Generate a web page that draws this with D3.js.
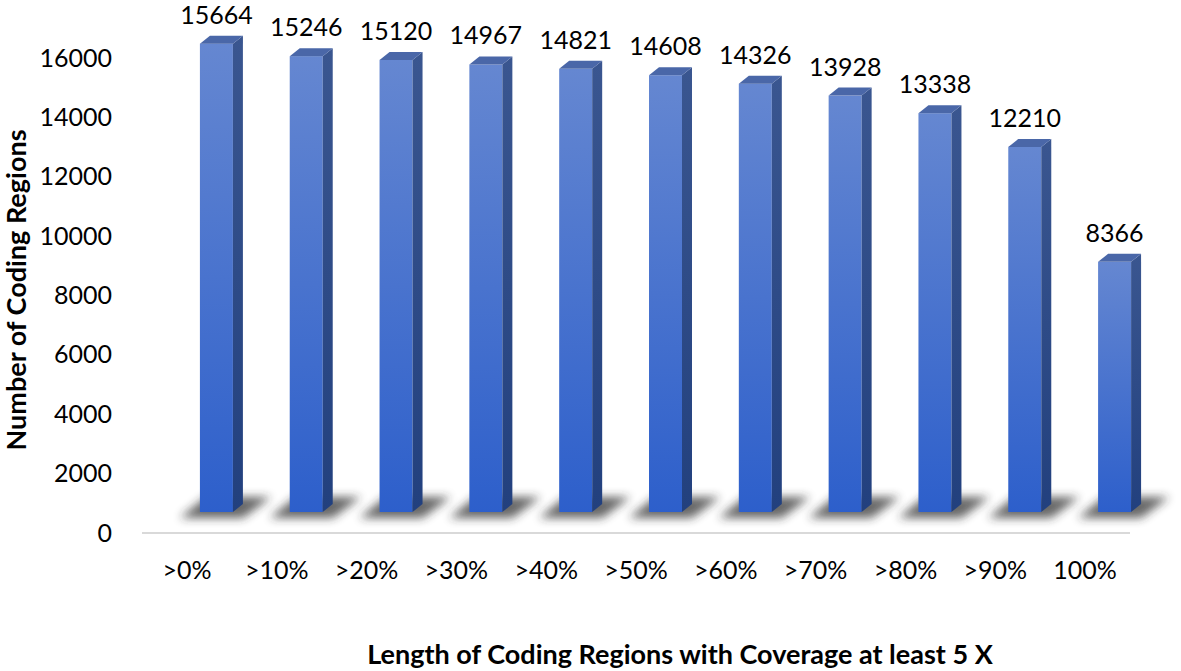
<!DOCTYPE html>
<html>
<head>
<meta charset="utf-8">
<script src="https://cdn.jsdelivr.net/npm/d3@7"></script>
<style>
  body { margin: 0; background: #fff; }
  text { font-family: Lato, "Open Sans", sans-serif; fill: #000; }
</style>
</head>
<body>
<div id="chart"></div>
<script>
// data
const categories = [">0%", ">10%", ">20%", ">30%", ">40%", ">50%", ">60%", ">70%", ">80%", ">90%", "100%"];
const counts = [15664, 15246, 15120, 14967, 14821, 14608, 14326, 13928, 13338, 12210, 8366];
const yTicks = [0, 2000, 4000, 6000, 8000, 10000, 12000, 14000, 16000];

const width = 1181, height = 671;

const svg = d3.select("#chart").append("svg")
  .attr("width", width)
  .attr("height", height);

const defs = svg.append("defs");
const front = defs.append("linearGradient").attr("id", "front").attr("x1", 0).attr("y1", 0).attr("x2", 0).attr("y2", 1);
front.append("stop").attr("offset", "0%").attr("stop-color", "#6587d1");
front.append("stop").attr("offset", "100%").attr("stop-color", "#2d5fcb");
const side = defs.append("linearGradient").attr("id", "side").attr("x1", 0).attr("y1", 0).attr("x2", 0).attr("y2", 1);
side.append("stop").attr("offset", "0%").attr("stop-color", "#3a5690");
side.append("stop").attr("offset", "100%").attr("stop-color", "#22407e");
defs.append("filter").attr("id", "blur")
  .attr("x", "-50%").attr("y", "-100%").attr("width", "200%").attr("height", "300%")
  .append("feGaussianBlur").attr("stdDeviation", 5);

// scales
const x = d3.scaleBand().domain(categories).range([142, 1130]);
const y = d3.scaleLinear().domain([0, 16000]).range([533, 58]);
const yBar = d3.scaleLinear().domain([0, 16000]).range([512, 33.6]);

const barW = 33, dx = 10, dy = 8, shift = 13;
const cx = d => x(d) + x.bandwidth() / 2;

// floor line
svg.append("line")
  .attr("x1", x.range()[0]).attr("x2", x.range()[1])
  .attr("y1", y(0)).attr("y2", y(0))
  .attr("stroke", "#d9d9d9").attr("stroke-width", 2);

// y axis tick labels
svg.append("g")
  .attr("transform", `translate(112,0)`)
  .call(d3.axisLeft(y).tickValues(yTicks).tickSize(0).tickPadding(0).tickFormat(d3.format("d")))
  .call(g => g.select(".domain").remove())
  .selectAll("text")
  .style("font-family", "Lato, sans-serif")
  .style("font-size", "25px")
  .attr("fill", "#000");

// category labels
svg.append("g")
  .attr("transform", `translate(0,${y(0)})`)
  .call(d3.axisBottom(x).tickSize(0).tickPadding(28))
  .call(g => g.select(".domain").remove())
  .selectAll("text")
  .style("font-family", "Lato, sans-serif")
  .style("font-size", "25px")
  .attr("fill", "#000");

const bars = svg.append("g").selectAll("g")
  .data(categories.map((c, i) => ({ c, v: counts[i] })))
  .join("g");

// shadows on the floor
bars.append("polygon")
  .attr("points", d => {
    const l = cx(d.c) + shift, b = yBar(0);
    return [[l - 20, b + 6], [l + barW + 10, b + 6], [l + barW + 38, b - 15], [l + 6, b - 15]].join(" ");
  })
  .attr("fill", "#262626")
  .attr("opacity", 0.7)
  .attr("filter", "url(#blur)");

// front face
bars.append("rect")
  .attr("x", d => cx(d.c) + shift)
  .attr("y", d => yBar(d.v))
  .attr("width", barW)
  .attr("height", d => yBar(0) - yBar(d.v))
  .attr("fill", "url(#front)");

// side face
bars.append("polygon")
  .attr("points", d => {
    const r = cx(d.c) + shift + barW, t = yBar(d.v), b = yBar(0);
    return [[r, t], [r + dx, t - dy], [r + dx, b - dy], [r, b]].join(" ");
  })
  .attr("fill", "url(#side)");

// top face
bars.append("polygon")
  .attr("points", d => {
    const l = cx(d.c) + shift, t = yBar(d.v);
    return [[l, t], [l + barW, t], [l + barW + dx, t - dy], [l + dx, t - dy]].join(" ");
  })
  .attr("fill", "#4a67a8");

// value labels
bars.append("text")
  .attr("x", d => cx(d.c) + shift + barW / 2)
  .attr("y", d => yBar(d.v) - 20)
  .attr("text-anchor", "middle")
  .style("font-size", "25px")
  .text(d => d.v);

// axis titles
svg.append("text")
  .attr("transform", `translate(26,${(125 + 455) / 2}) rotate(-90)`)
  .attr("text-anchor", "middle")
  .style("font-size", "27px")
  .style("font-weight", "bold")
  .text("Number of Coding Regions");

svg.append("text")
  .attr("x", 680)
  .attr("y", 664)
  .attr("text-anchor", "middle")
  .style("font-size", "27px")
  .style("font-weight", "bold")
  .text("Length of Coding Regions with Coverage at least 5 X");
</script>
</body>
</html>
